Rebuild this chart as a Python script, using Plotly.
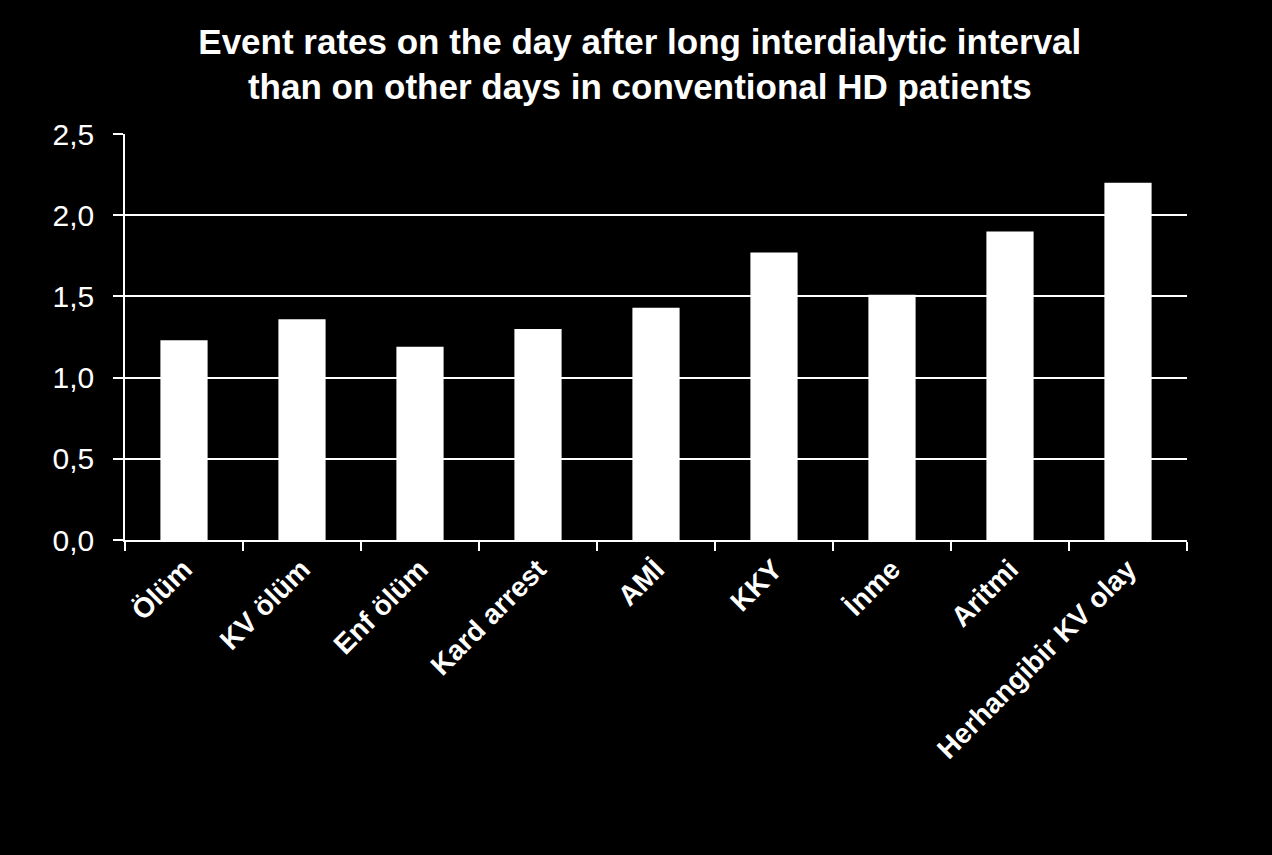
import plotly.graph_objects as go

categories = ["Ölüm", "KV ölüm", "Enf ölüm", "Kard arrest", "AMİ", "KKY", "İnme", "Aritmi", "Herhangibir KV olay"]
values = [1.23, 1.36, 1.19, 1.30, 1.43, 1.77, 1.51, 1.90, 2.20]
y_ticks = [0, 0.5, 1.0, 1.5, 2.0, 2.5]
title_text = "Event rates on the day after long interdialytic interval<br>than on other days in conventional HD patients"

FONT = "Liberation Sans, Arial"

fig = go.Figure(go.Bar(x=categories, y=values, marker=dict(color="white", line=dict(width=0))))

fig.update_layout(
    width=1272, height=855,
    paper_bgcolor="black", plot_bgcolor="black",
    margin=dict(l=125, r=85, t=134, b=315),
    separators=",.",
    title=dict(text=title_text, x=0.503, xanchor="center", yref="container", y=0.937, yanchor="top",
               font=dict(family=FONT, size=35, color="white", weight="bold")),
    showlegend=False,
    bargap=0.6,
)
fig.update_yaxes(range=[0, 2.5], tickvals=y_ticks, tickformat=".1f",
                 showgrid=True, gridcolor="white", gridwidth=1.5,
                 showline=True, linecolor="white", linewidth=1.5,
                 ticks="outside", ticklen=10, tickcolor="white", tickwidth=1.5,
                 ticklabelstandoff=13,
                 tickfont=dict(family=FONT, size=30, color="white"),
                 zeroline=False)
fig.update_xaxes(showline=True, linecolor="white", linewidth=1.5,
                 ticks="outside", ticklen=9, tickcolor="white", tickwidth=1.5,
                 tickson="boundaries", tickangle=-45,
                 tickfont=dict(family=FONT, size=28, color="white", weight="bold"))

fig.write_html("out.html", config={"displayModeBar": False},
               post_script="document.body.style.margin='0';document.body.style.background='black';")
